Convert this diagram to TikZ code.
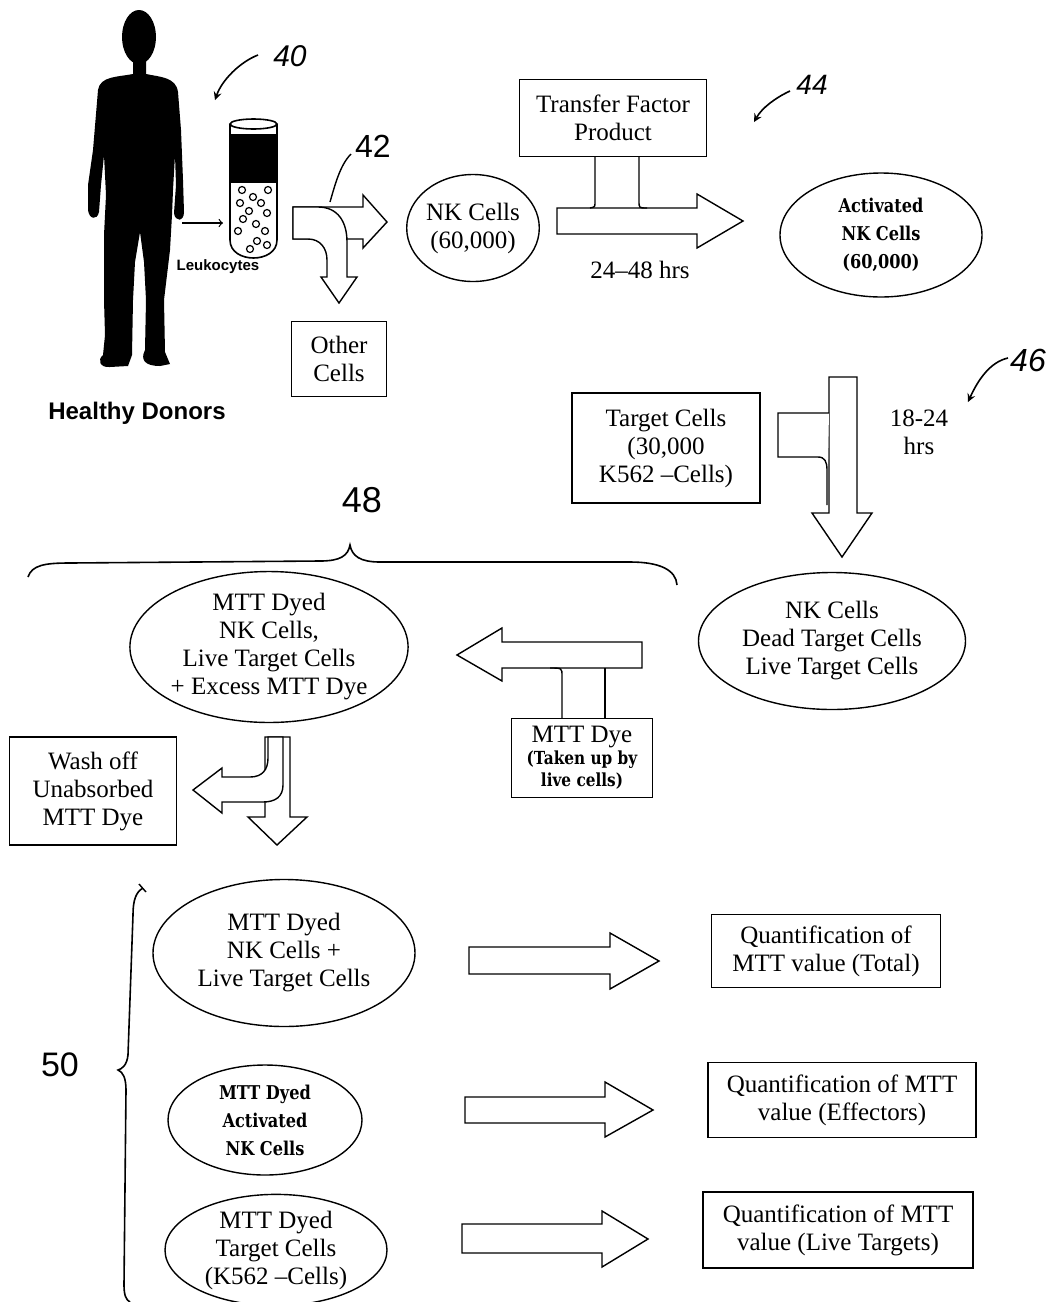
\documentclass[tikz,border=0pt]{standalone}
\usepackage{fontspec}
\setmainfont{Liberation Serif}
\setsansfont{Liberation Sans}
\newfontfamily\heavyfont{DejaVu Serif}[FakeStretch=0.85]
\usetikzlibrary{shapes.geometric}

\tikzset{
  box/.style={draw, line width=0.7pt, align=center, inner sep=0pt, font=\fontsize{12.5}{14}\selectfont},
  oval/.style={box, ellipse},
  heavytext/.style={font=\heavyfont\bfseries\fontsize{9.5}{14}\selectfont},
  blockarrow/.style={draw, fill=white, line width=0.7pt, line join=miter},
  refnum/.style={font=\sffamily\fontsize{15}{15}\selectfont},
}

\begin{document}
\begin{tikzpicture}[x=0.5pt, y=-0.5pt]
\useasboundingbox (0,0) rectangle (1050,1302);

% donor and tube
\fill (139,37) ellipse [x radius=17, y radius=27];
\fill (133,58) -- (133,74) .. controls (118,77) and (100,76) .. (98,90) -- (93,150) -- (88,185) -- (88,210) .. controls (89,219) and (97,221) .. (99,212) -- (101,185) -- (104,155) -- (106,195) -- (104,235) -- (104,300) -- (105,335) -- (103,355) .. controls (97,360) and (100,368) .. (110,367) -- (128,366) -- (132,355) -- (133,300) -- (135,262) -- (140,232) -- (144,262) -- (146,300) -- (145,350) .. controls (140,360) and (145,366) .. (160,366) -- (170,364) -- (165,352) -- (164,300) -- (170,250) -- (172,215) -- (173,190) -- (175,155) -- (176,185) -- (174,213) .. controls (175,222) and (184,222) .. (184,212) -- (183,180) -- (181,130) -- (178,92) .. controls (176,77) and (160,77) .. (146,74) -- (146,58) -- cycle;
\node[font=\sffamily\bfseries\fontsize{12}{12}\selectfont] (donors) at (137,413) {Healthy Donors};

\fill (230,134) rectangle (277,183);
\draw[line width=0.8pt] (230,124) -- (230,240) .. controls (230,264) and (277,264) .. (277,240) -- (277,124);
\draw[line width=0.8pt] (253.5,124) ellipse [x radius=23.5, y radius=5];
\draw[line width=0.6pt] (242,190) circle [radius=3.5] (268,190) circle [radius=3.5]
  (253,197) circle [radius=3.5] (240,203) circle [radius=3.5] (261,203) circle [radius=3.5]
  (249,211) circle [radius=3.5] (267,213) circle [radius=3.5] (243,219) circle [radius=3.5]
  (256,224) circle [radius=3.5] (238,231) circle [radius=3.5] (265,231) circle [radius=3.5]
  (257,241) circle [radius=3.5] (267,245) circle [radius=3.5] (250,249) circle [radius=3.5];
\node[font=\sffamily\bfseries\fontsize{7.5}{8}\selectfont] (leuko) at (218,267) {Leukocytes};
\coordinate (donor) at (182,223);
\coordinate (tube) at (223,223);
\draw[->, line width=0.6pt] (donor) -- (tube);

% separation
\draw[blockarrow] (293,207) -- (363,207) -- (363,195) -- (387,222) -- (363,248) -- (363,239) -- (293,239) -- cycle;
\draw[blockarrow] (293,207) -- (318,207) .. controls (338,207) and (347,222) .. (347,242) -- (347,277) -- (357,277) -- (339,303) -- (321,277) -- (327,277) -- (327,260) .. controls (327,248) and (320,239) .. (308,239) -- (293,239) -- cycle;
\node[box, minimum width=47.5pt, minimum height=37.5pt] (other) at (339,359) {Other\\Cells};

\node[oval, minimum width=65pt, minimum height=53.5pt] (nk) at (473,228) {NK Cells\\(60,000)};

% activation
\node[box, minimum width=93.5pt, minimum height=38.5pt] (tfp) at (613,118) {Transfer Factor\\Product};
\draw[blockarrow] (557,208) -- (697,208) -- (697,194) -- (743,221) -- (697,248) -- (697,234) -- (557,234) -- cycle;
\draw[line width=0.7pt] (595,0 |- tfp.south) -- (595,202) .. controls (595,207) .. (590,208);
\draw[line width=0.7pt] (639,0 |- tfp.south) -- (639,201) .. controls (639,208) .. (647,208);
\node[font=\fontsize{12.5}{14}\selectfont] (hrsa) at (640,270) {24--48 hrs};
\node[oval, heavytext, minimum width=101pt, minimum height=62pt] (act) at (881,235) {Activated\\NK Cells\\(60,000)};

% targets
\node[box, minimum width=94pt, minimum height=55pt] (target) at (666,448) {Target Cells\\(30,000\\K562 --Cells)};
\draw[blockarrow] (829,377) -- (857,377) -- (857,513) -- (872,513) -- (842,557) -- (812,513) -- (829,513) -- cycle;
\draw[blockarrow] (829,413) -- (778,413) -- (778,457) -- (818,457) .. controls (825,457) and (827,462) .. (827,470) -- (827,505);
\node[align=center, font=\fontsize{12.5}{14}\selectfont] (hrsb) at (919,432) {18-24\\hrs};
\node[oval, minimum width=133.5pt, minimum height=68.5pt] (mix) at (832,641) {NK Cells\\Dead Target Cells\\Live Target Cells};

% dye
\node[box, minimum width=70.5pt, minimum height=39.5pt] (dye) at (582,758) {MTT Dye\\[-3pt]{\heavyfont\bfseries\fontsize{9}{11}\selectfont (Taken up by}\\[-3pt]{\heavyfont\bfseries\fontsize{9}{11}\selectfont live cells)}};
\draw[blockarrow] (642,642) -- (502,642) -- (502,628) -- (457,655) -- (502,681) -- (502,668) -- (642,668) -- cycle;
\draw[line width=0.7pt] (562,0 |- dye.north) -- (562,676) .. controls (562,668) .. (550,668);
\draw[line width=0.7pt] (605,0 |- dye.north) -- (605,668);
\node[oval, minimum width=131pt, minimum height=70.5pt] (dyed) at (269,647) {MTT Dyed\\NK Cells,\\Live Target Cells\\+ Excess MTT Dye};

% wash
\node[box, minimum width=83.5pt, minimum height=54pt] (wash) at (93,791) {Wash off\\Unabsorbed\\MTT Dye};
\draw[blockarrow] (265,737) -- (290,737) -- (290,817) -- (307,817) -- (277,845) -- (248,817) -- (265,817) -- cycle;
\draw[blockarrow] (268,737) -- (283,737) -- (283,785) .. controls (283,797) and (275,802) .. (263,802) -- (222,802) -- (222,813) -- (193,790) -- (222,768) -- (222,777) -- (250,777) .. controls (262,777) and (268,770) .. (268,758) -- cycle;

% results
\node[oval, minimum width=131pt, minimum height=73.5pt] (tot) at (284,953) {MTT Dyed\\NK Cells +\\Live Target Cells};
\node[oval, heavytext, minimum width=97pt, minimum height=55pt] (eff) at (265,1120) {MTT Dyed\\Activated\\NK Cells};
\node[oval, minimum width=111pt, minimum height=52.5pt] (live) at (276,1250) {MTT Dyed\\Target Cells\\(K562 --Cells)};

\draw[blockarrow] (469,947) -- (610,947) -- (610,933) -- (659,961) -- (610,989) -- (610,974) -- (469,974) -- cycle;
\draw[blockarrow] (465,1097) -- (605,1097) -- (605,1082) -- (653,1110) -- (605,1137) -- (605,1123) -- (465,1123) -- cycle;
\draw[blockarrow] (462,1224) -- (602,1224) -- (602,1211) -- (648,1239) -- (602,1267) -- (602,1253) -- (462,1253) -- cycle;

\node[box, minimum width=114.5pt, minimum height=36.5pt] (qtot) at (826,951) {Quantification of\\MTT value (Total)};
\node[box, minimum width=134pt, minimum height=37.5pt] (qeff) at (842,1100) {Quantification of MTT\\value (Effectors)};
\node[box, minimum width=135pt, minimum height=38pt] (qlive) at (838,1230) {Quantification of MTT\\value (Live Targets)};

% reference numerals
\node[refnum, font=\sffamily\itshape\fontsize{15}{15}\selectfont] (n40) at (290,56) {40};
\draw[-stealth, line width=0.8pt] (258,55) .. controls (240,62) and (222,80) .. (215,100);
\node[refnum, font=\sffamily\fontsize{16}{16}\selectfont] (n42) at (373,146) {42};
\draw[line width=0.7pt] (351,154) .. controls (340,165) and (335,185) .. (330,202);
\node[refnum, font=\sffamily\itshape\fontsize{14}{14}\selectfont] (n44) at (812,85) {44};
\draw[-stealth, line width=0.8pt] (790,91) .. controls (775,98) and (762,108) .. (754,122);
\node[refnum, font=\sffamily\itshape\fontsize{16}{16}\selectfont] (n46) at (1028,360) {46};
\draw[-stealth, line width=0.8pt] (1008,358) .. controls (990,362) and (978,380) .. (968,402);
\node[refnum, font=\sffamily\fontsize{18}{18}\selectfont] (n48) at (362,500) {48};
\draw[line width=0.8pt] (28,577) .. controls (32,565) and (45,563) .. (70,563) -- (320,561) .. controls (340,561) and (348,556) .. (350,545) .. controls (352,556) and (360,562) .. (380,562) -- (630,562) .. controls (660,562) and (676,570) .. (677,585);
\node[refnum, font=\sffamily\fontsize{17}{17}\selectfont] (n50) at (60,1065) {50};
\draw[line width=0.8pt] (143,888) .. controls (136,892) and (133,900) .. (133,915) -- (128,1055) .. controls (127,1065) and (122,1069) .. (118,1070) .. controls (123,1072) and (126,1078) .. (126,1090) -- (124,1285) .. controls (124,1295) and (126,1300) .. (130,1302);
\draw[line width=0.7pt] (139,884) -- (146,892);

\end{tikzpicture}
\end{document}
